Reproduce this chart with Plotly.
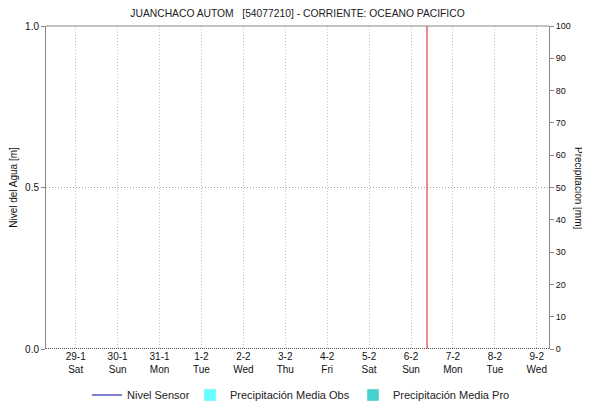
import plotly.graph_objects as go

title = "JUANCHACO AUTOM   [54077210] - CORRIENTE: OCEANO PACIFICO"
x_start = "2022-01-28 07:00"
x_end = "2022-02-09 07:00"
tick_dates = ["2022-01-29", "2022-01-30", "2022-01-31", "2022-02-01", "2022-02-02", "2022-02-03",
              "2022-02-04", "2022-02-05", "2022-02-06", "2022-02-07", "2022-02-08", "2022-02-09"]
tick_days = ["29-1", "30-1", "31-1", "1-2", "2-2", "3-2", "4-2", "5-2", "6-2", "7-2", "8-2", "9-2"]
tick_weekdays = ["Sat", "Sun", "Mon", "Tue", "Wed", "Thu", "Fri", "Sat", "Sun", "Mon", "Tue", "Wed"]
now_marker = "2022-02-06 09:10"
level_ticks = [0.0, 0.5, 1.0]
precip_ticks = list(range(0, 101, 10))

FONT = "Liberation Sans, Arial, sans-serif"
OFF = 8  # page body margin
W, H = 590 - OFF, 403 - OFF
# plot area in window pixels
PL, PR, PT, PB = 46, 549, 26, 349
L, R, T, B = PL - OFF, W - (PR - OFF), PT - OFF, H - (PB - OFF)
PW, PH = PR - PL, PB - PT


def px_x(px):
    return (px - PL) / PW


def px_y(py):
    return (PB - py) / PH


fig = go.Figure()
fig.add_trace(go.Scatter(x=[None], y=[None], mode="lines", name="Nivel Sensor",
                         line=dict(color="#0000aa", width=1), legend="legend"))
fig.add_trace(go.Bar(x=[None], y=[None], name="Precipitación Media Obs",
                     marker_color="#66ffff", yaxis="y2", legend="legend2"))
fig.add_trace(go.Bar(x=[None], y=[None], name="Precipitación Media Pro",
                     marker_color="#48d1cc", yaxis="y2", legend="legend3"))

leg_common = dict(yanchor="middle", y=px_y(395), xanchor="left",
                  font=dict(family=FONT, size=11, color="#222"), bgcolor="rgba(0,0,0,0)")
fig.update_layout(
    width=W, height=H,
    margin=dict(l=L, r=R, t=T, b=B, autoexpand=False),
    paper_bgcolor="white", plot_bgcolor="white",
    font=dict(family=FONT, size=10, color="#111"),
    title=dict(text=title, x=(297.5 - OFF) / W, xanchor="center",
               y=1 - (13 - OFF) / H, yanchor="middle",
               font=dict(family=FONT, size=10.3, color="#222")),
    showlegend=True,
    legend=dict(x=px_x(87), **leg_common),
    legend2=dict(x=px_x(190), **leg_common),
    legend3=dict(x=px_x(353), **leg_common),
    xaxis=dict(range=[x_start, x_end], type="date",
               tickvals=tick_dates,
               ticktext=[f"{d}<br>{w}" for d, w in zip(tick_days, tick_weekdays)],
               showgrid=True, gridcolor="#c0c0c0", griddash="1px,2px", gridwidth=1,
               showline=False, ticks="", zeroline=False, tickfont=dict(size=10),
               automargin=False),
    yaxis=dict(range=[0, 1], tickvals=level_ticks, ticktext=[f"{v:.1f}" for v in level_ticks],
               showgrid=True, gridcolor="#a8a8a8", griddash="1px,2px", zeroline=False,
               showline=True, linecolor="#888", linewidth=1, ticks="outside", ticklen=4,
               tickcolor="#888", automargin=False,
               title=dict(text="Nivel del Agua [m]", standoff=8, font=dict(size=10))),
    yaxis2=dict(range=[0, 100], tickvals=precip_ticks, overlaying="y", side="right",
                showgrid=False, zeroline=False, showline=True, linecolor="#888", linewidth=1,
                ticks="outside", ticklen=4, tickcolor="#888", tickfont=dict(size=9),
                automargin=False),
)
# top frame line
fig.add_shape(type="line", xref="paper", yref="paper", x0=0, x1=1, y0=1, y1=1,
              line=dict(color="#888", width=1))
# dotted baseline
fig.add_shape(type="line", xref="paper", yref="y", x0=0, x1=1, y0=0, y1=0,
              line=dict(color="#222", width=1.5, dash="1px,1px"))
# current time marker
fig.add_shape(type="line", xref="x", yref="paper", x0=now_marker, x1=now_marker, y0=0, y1=1,
              line=dict(color="#d94040", width=1.2))
fig.add_annotation(text="Precipitación [mm]", xref="paper", yref="paper",
                   x=px_x(586), y=0.5, xanchor="right", yanchor="middle",
                   showarrow=False, textangle=90,
                   font=dict(family=FONT, size=10, color="#111"))
fig.write_html("out.html")
